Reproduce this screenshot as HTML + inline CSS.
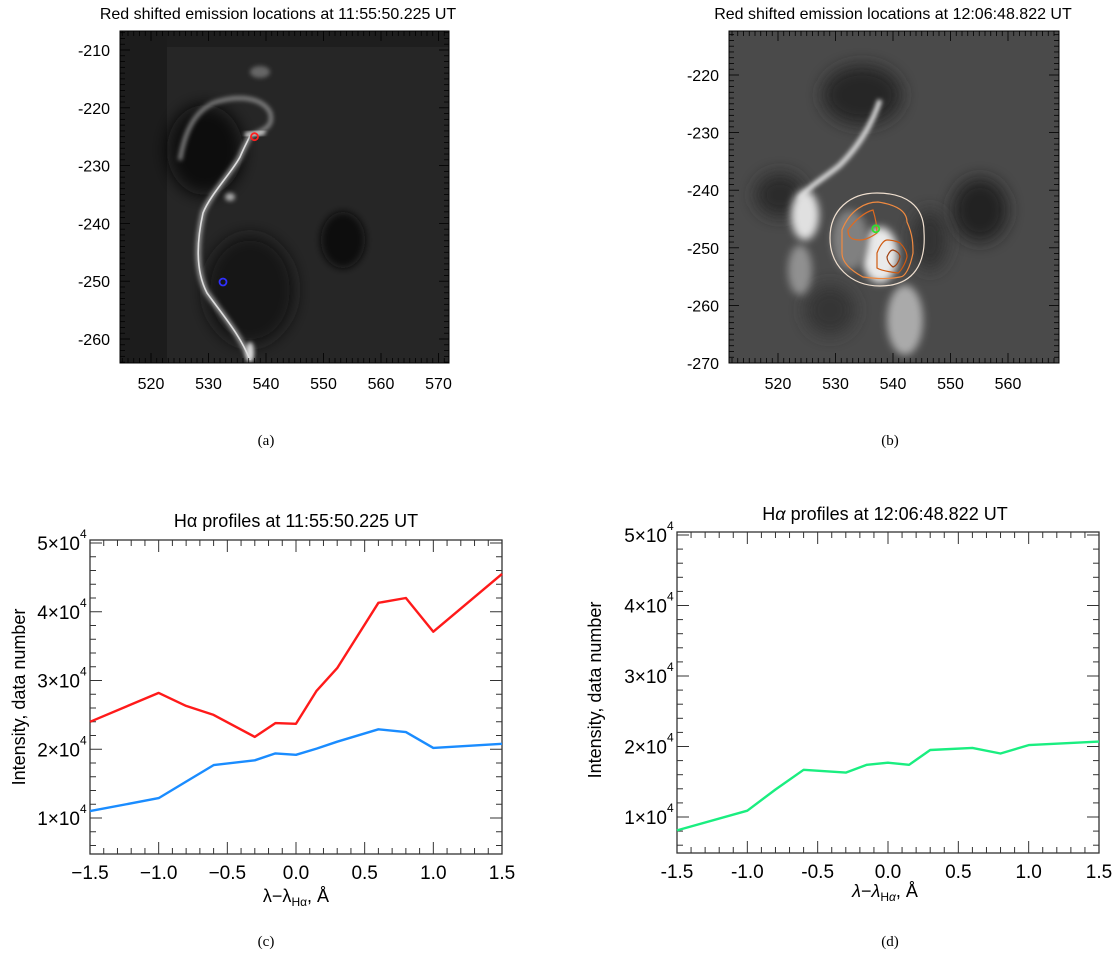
<!DOCTYPE html>
<html><head><meta charset="utf-8"><style>
html,body{margin:0;padding:0;background:#fff;}
body{width:1117px;height:958px;position:relative;overflow:hidden;font-family:"Liberation Sans",sans-serif;}
svg{position:absolute;left:0;top:0;}
</style></head><body>
<svg id="main" width="1117" height="958" viewBox="0 0 1117 958">
<defs>
<filter id="b2" x="-50%" y="-50%" width="200%" height="200%"><feGaussianBlur stdDeviation="2"/></filter>
<filter id="b4" x="-50%" y="-50%" width="200%" height="200%"><feGaussianBlur stdDeviation="4"/></filter>
<filter id="b8" x="-80%" y="-80%" width="260%" height="260%"><feGaussianBlur stdDeviation="8"/></filter>
<clipPath id="clipA"><rect x="120" y="31" width="329" height="332"/></clipPath>
<clipPath id="clipB"><rect x="729" y="31" width="330" height="332"/></clipPath>
</defs>

<!-- Panel (a) image -->
<g>
<text x="278" y="19" font-size="16" text-anchor="middle">Red shifted emission locations at 11:55:50.225 UT</text>
<g clip-path="url(#clipA)">
<rect x="120" y="31" width="329" height="332" fill="#262626"/>
<rect x="120" y="31" width="47" height="332" fill="#1c1c1c"/>
<rect x="167" y="31" width="282" height="16" fill="#1e1e1e"/>
<ellipse cx="205" cy="150" rx="38" ry="45" fill="#0c0c0c" filter="url(#b8)"/>
<ellipse cx="250" cy="290" rx="45" ry="55" fill="#141414" filter="url(#b8)"/>
<ellipse cx="343" cy="240" rx="22" ry="28" fill="#0e0e0e" filter="url(#b4)"/>
<path d="M250,360 C240,335 225,318 207,293 C195,270 197,240 203,213 C210,195 232,172 240,157 C245,145 250,137 250,135" stroke="#999" stroke-width="5" fill="none" filter="url(#b2)"/>
<path d="M250,360 C240,335 225,318 207,293 C195,270 197,240 203,213 C210,195 232,172 240,157 C245,145 250,137 250,135" stroke="#dddddd" stroke-width="1.6" fill="none"/>
<path d="M248,137 C262,130 275,128 270,112 C262,98 240,94 213,103 C195,112 185,130 180,160" stroke="#888" stroke-width="4" fill="none" filter="url(#b2)"/>
<path d="M245,135 L265,132" stroke="#cccccc" stroke-width="5" filter="url(#b2)"/>
<ellipse cx="260" cy="72" rx="10" ry="6" fill="#666" filter="url(#b2)"/>
<ellipse cx="230" cy="197" rx="5" ry="4" fill="#aaa" filter="url(#b2)"/>
<ellipse cx="250" cy="352" rx="4" ry="10" fill="#ddd" filter="url(#b2)"/>
</g>
<rect x="120" y="31" width="329" height="332" fill="none" stroke="#000" stroke-width="1"/>
<circle cx="254.5" cy="136.7" r="3.5" fill="none" stroke="#ff2020" stroke-width="1.8"/>
<circle cx="223" cy="282" r="3.5" fill="none" stroke="#3030ff" stroke-width="1.8"/>
<g id="axA"></g>
<text x="266" y="445" font-size="15" font-family="Liberation Serif,serif" text-anchor="middle">(a)</text>
</g>

<!-- Panel (b) image -->
<g>
<text x="893" y="19" font-size="16" text-anchor="middle">Red shifted emission locations at 12:06:48.822 UT</text>
<g clip-path="url(#clipB)">
<rect x="729" y="31" width="330" height="332" fill="#4a4a4a"/>
<ellipse cx="862" cy="95" rx="40" ry="30" fill="#252525" filter="url(#b8)"/>
<ellipse cx="780" cy="195" rx="25" ry="22" fill="#2a2a2a" filter="url(#b8)"/>
<ellipse cx="980" cy="210" rx="28" ry="32" fill="#222" filter="url(#b8)"/>
<ellipse cx="930" cy="240" rx="18" ry="30" fill="#333" filter="url(#b8)"/>
<ellipse cx="830" cy="310" rx="25" ry="25" fill="#353535" filter="url(#b8)"/>
<path d="M880,100 C870,130 855,150 840,165 C825,178 805,188 800,200" stroke="#dddddd" stroke-width="5" fill="none" filter="url(#b2)"/>
<ellipse cx="805" cy="215" rx="14" ry="25" fill="#e0e0e0" filter="url(#b4)"/>
<ellipse cx="800" cy="270" rx="12" ry="25" fill="#909090" filter="url(#b4)"/>
<ellipse cx="880" cy="255" rx="18" ry="28" fill="#eaeaea" filter="url(#b4)"/>
<ellipse cx="905" cy="320" rx="18" ry="35" fill="#aaaaaa" filter="url(#b4)"/>
<ellipse cx="850" cy="240" rx="18" ry="30" fill="#808080" filter="url(#b4)"/>
</g>
<rect x="729" y="31" width="330" height="332" fill="none" stroke="#000" stroke-width="1"/>
<g fill="none">
<path d="M877,193 C905,193 924,205 924,232 C926,262 915,286 880,286 C850,286 830,265 830,238 C830,210 850,193 877,193 Z" stroke="#f0e0d0" stroke-width="1.2"/>
<path d="M842,230 C850,210 865,202 878,202 C898,205 907,212 907,222 C913,235 913,245 913,253 C910,268 905,277 900,277 C885,280 870,278 863,277 C850,270 842,262 842,253 Z" stroke="#f08a40" stroke-width="1.2"/>
<path d="M848,230 C855,220 865,212 873,210 C876,220 877,228 877,233 C870,238 865,240 860,240 C850,240 848,236 848,230 Z" stroke="#e06a20" stroke-width="1.2"/>
<path d="M877,253 C880,245 884,240 887,240 C895,240 900,243 900,243 C905,248 907,252 907,257 C905,265 900,272 898,273 C890,272 880,270 877,268 Z" stroke="#d05a10" stroke-width="1.2"/>
<path d="M887,257 C889,252 891,250 893,250 C897,251 900,254 900,257 C899,262 896,266 893,267 C889,264 887,260 887,257 Z" stroke="#a04010" stroke-width="1.2"/>
</g>
<circle cx="875.8" cy="228.8" r="3.5" fill="none" stroke="#30e030" stroke-width="1.8"/>
<g id="axB"></g>
<text x="890" y="445" font-size="15" font-family="Liberation Serif,serif" text-anchor="middle">(b)</text>
</g>

<!-- Panel (c) -->
<g>
<text x="296" y="527" font-size="18" text-anchor="middle">Hα profiles at 11:55:50.225 UT</text>
<g id="plotC"></g>
<text x="296" y="902" font-size="18" text-anchor="middle">λ−λ<tspan font-size="12" dy="4">Hα</tspan><tspan dy="-4">, Å</tspan></text>
<text transform="translate(25,697) rotate(-90)" font-size="18" text-anchor="middle">Intensity, data number</text>
<text x="266" y="946" font-size="15" font-family="Liberation Serif,serif" text-anchor="middle">(c)</text>
</g>

<!-- Panel (d) -->
<g>
<text x="885" y="520" font-size="18" text-anchor="middle">H<tspan font-style="italic">α</tspan> profiles at 12:06:48.822 UT</text>
<g id="plotD"></g>
<text x="885" y="897" font-size="18" text-anchor="middle"><tspan font-style="italic">λ</tspan>−<tspan font-style="italic">λ</tspan><tspan font-size="12" dy="4">H<tspan font-style="italic">α</tspan></tspan><tspan dy="-4">, Å</tspan></text>
<text transform="translate(601,690) rotate(-90)" font-size="18" text-anchor="middle">Intensity, data number</text>
<text x="890" y="946" font-size="15" font-family="Liberation Serif,serif" text-anchor="middle">(d)</text>
</g>
</svg>
<script>
// ---- chart data ----
const wavelengths = [-1.5,-1.0,-0.8,-0.6,-0.3,-0.15,0.0,0.15,0.3,0.6,0.8,1.0,1.5];
const redProfile  = [24000,28200,26300,25000,21800,23800,23700,28500,31800,41300,42000,37100,45500];
const blueProfile = [11000,12900,15300,17700,18400,19400,19200,20100,21100,22900,22500,20200,20800];
const greenProfile= [8100,10900,13900,16700,16300,17400,17700,17400,19500,19800,19000,20200,20700];
const xTicks = [-1.5,-1.0,-0.5,0.0,0.5,1.0,1.5];
const xTickLabels = ["−1.5","−1.0","−0.5","0.0","0.5","1.0","1.5"];
const xTickLabelsD = ["-1.5","-1.0","-0.5","0.0","0.5","1.0","1.5"];
const yTicks = [10000,20000,30000,40000,50000];
const yTickMantissa = ["1","2","3","4","5"];
const imgAxTicksX_A = [520,530,540,550,560,570];
const imgAxTicksY_A = [-210,-220,-230,-240,-250,-260];
const imgAxTicksX_B = [520,530,540,550,560];
const imgAxTicksY_B = [-220,-230,-240,-250,-260,-270];

const NS="http://www.w3.org/2000/svg";
function mk(tag,attrs,parent){const e=document.createElementNS(NS,tag);for(const k in attrs)e.setAttribute(k,attrs[k]);parent.appendChild(e);return e;}

function drawChart(gid,box,series,colors,names,labels){
  const g=document.getElementById(gid);
  const xs=v=>box.x0+(v+1.5)/3*(box.x1-box.x0);
  const ys=v=>box.y10k-(v-10000)*box.per/10000;
  const ymin=10000-(box.y1-box.y10k)/box.per*10000;
  const ymax=10000+(box.y10k-box.y0)/box.per*10000;
  const frame=mk('rect',{x:box.x0,y:box.y0,width:box.x1-box.x0,height:box.y1-box.y0,fill:'none',stroke:'#333','stroke-width':1.3},g);
  
  
  for(let i=0;i<=30;i++){const v=-1.5+i*0.1;const x=xs(v);const major=(i%5===0);const L=major?12:6;
    mk('line',{x1:x,y1:box.y1,x2:x,y2:box.y1-L,stroke:'#333','stroke-width':1},g);
    mk('line',{x1:x,y1:box.y0,x2:x,y2:box.y0+L,stroke:'#333','stroke-width':1},g);}
  for(let v=Math.ceil(ymin/2000)*2000;v<=ymax;v+=2000){const y=ys(v);const major=(v%10000===0);const L=major?12:6;
    mk('line',{x1:box.x0,y1:y,x2:box.x0+L,y2:y,stroke:'#333','stroke-width':1},g);
    mk('line',{x1:box.x1,y1:y,x2:box.x1-L,y2:y,stroke:'#333','stroke-width':1},g);}
  xTicks.forEach((v,i)=>{const t=mk('text',{x:xs(v),y:box.y1+25,'font-size':19,'text-anchor':'middle'},g);t.textContent=labels[i];
    
    });
  yTicks.forEach((v,i)=>{const t=mk('text',{x:box.x0-10,y:ys(v)+7,'font-size':19,'text-anchor':'end'},g);
    t.textContent=yTickMantissa[i]+"×10";
    
    
    const s=mk('text',{x:box.x0-10,y:ys(v)-5,'font-size':12},g);s.textContent="4";});
  series.forEach((d,si)=>{
    const pts=wavelengths.map((w,i)=>xs(w).toFixed(1)+","+ys(d[i]).toFixed(1)).join(" ");
    const p=mk('polyline',{points:pts,fill:'none',stroke:colors[si],'stroke-width':2.4,'stroke-linejoin':'round'},g);
    
    
  });
}
drawChart('plotC',{x0:90,x1:502,y0:540,y1:854,y10k:818,per:68.75},[redProfile,blueProfile],['#ff1a1a','#1a8cff'],['red-profile-line','blue-profile-line'],xTickLabels);
drawChart('plotD',{x0:677,x1:1099,y0:532,y1:853,y10k:817,per:70.5},[greenProfile],['#1aee80'],['green-profile-line'],xTickLabelsD);

function drawImgAxes(gid,box,tx,ty,x0v,xs_,y0v,ys_){
  const g=document.getElementById(gid);
  const X=v=>box.xref+(v-x0v)*xs_;
  const Y=v=>box.yref+(y0v-v)*ys_;
  const minX=Math.ceil((x0v-(box.xref-box.x0)/xs_));
  for(let v=minX;X(v)<=box.x1;v++){const x=X(v);if(x<box.x0)continue;const L=(v%10===0)?10:5;
    mk('line',{x1:x,y1:box.y1,x2:x,y2:box.y1-L,stroke:'#000','stroke-width':0.8},g);
    mk('line',{x1:x,y1:box.y0,x2:x,y2:box.y0+L,stroke:'#000','stroke-width':0.8},g);}
  for(let v=Math.floor(y0v+(box.yref-box.y0)/ys_);Y(v)<=box.y1;v--){const y=Y(v);if(y<box.y0)continue;const L=(v%10===0)?10:5;
    mk('line',{x1:box.x0,y1:y,x2:box.x0+L,y2:y,stroke:'#000','stroke-width':0.8},g);
    mk('line',{x1:box.x1,y1:y,x2:box.x1-L,y2:y,stroke:'#000','stroke-width':0.8},g);}
  tx.forEach(v=>{const t=mk('text',{x:X(v),y:box.y1+26,'font-size':16,'text-anchor':'middle'},g);t.textContent=v;
    
    });
  ty.forEach(v=>{const t=mk('text',{x:box.x0-10,y:Y(v)+6,'font-size':16,'text-anchor':'end'},g);t.textContent=v;
    
    });
}
drawImgAxes('axA',{x0:120,x1:449,y0:31,y1:363,xref:151,yref:50},imgAxTicksX_A,imgAxTicksY_A,520,5.75,-210,5.78);
drawImgAxes('axB',{x0:729,x1:1059,y0:31,y1:363,xref:778,yref:75},imgAxTicksX_B,imgAxTicksY_B,520,5.75,-220,5.76);
</script>
</body></html>
